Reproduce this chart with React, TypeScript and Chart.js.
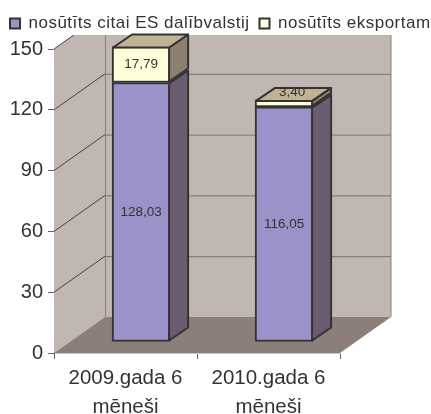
import React, { useEffect, useRef } from "react";
import { Chart, registerables } from "chart.js";

Chart.register(...registerables);

const categories = [["2009.gada 6", "mēneši"], ["2010.gada 6", "mēneši"]];
const seriesNames = ["nosūtīts citai ES dalībvalstij", "nosūtīts eksportam"];
const sentToEU = [128.03, 116.05];
const sentExport = [17.79, 3.4];
const yTicks = [0, 30, 60, 90, 120, 150];

const FONT = "'Liberation Sans', Arial, sans-serif";
const DX = 51, DY = 36;
const BAR_SHIFT = { x: 15.6, y: 11 };
const BAR_DEPTH = { x: 19, y: 13 };
const INK = "#333333";
const faces = [
  { front: "#9A92C8", side: "#6B5C72" },
  { front: "#FFFFD9", side: "#8F7F6E" },
];
const TOP_FACE = "#C2B294";

const poly = (ctx: CanvasRenderingContext2D, pts: number[][], fill: string | null, stroke?: string, lw = 1) => {
  ctx.beginPath();
  pts.forEach((p, i) => (i ? ctx.lineTo(p[0], p[1]) : ctx.moveTo(p[0], p[1])));
  ctx.closePath();
  if (fill) { ctx.fillStyle = fill; ctx.fill(); }
  if (stroke) { ctx.strokeStyle = stroke; ctx.lineWidth = lw; ctx.stroke(); }
};

const walls3d = {
  id: "walls3d",
  beforeLayout(chart: any) {
    const lg = chart.legend;
    if (!lg || lg._wrapped) return;
    lg._wrapped = true;
    const ctx = chart.ctx;
    const fit = lg.fit.bind(lg);
    lg.fit = () => {
      ctx.letterSpacing = "0.5px";
      lg.maxWidth = 600;
      fit();
      ctx.letterSpacing = "0px";
      lg.height = 44;
      lg.width = 431;
    };
    const draw = lg.draw.bind(lg);
    lg.draw = (...a: any[]) => {
      const right = lg.right;
      lg.right = 600;
      ctx.letterSpacing = "0.5px";
      draw(...a);
      ctx.letterSpacing = "0px";
      lg.right = right;
    };
  },
  beforeDatasetsDraw(chart: any) {
    const { ctx, chartArea: a, scales } = chart;
    const y = scales.y;
    ctx.save();
    ctx.beginPath();
    ctx.rect(0, 35, 431, 379);
    ctx.clip();
    const L = a.left, R = a.right, T = a.top, B = a.bottom;
    poly(ctx, [[L, B], [L + DX, B - DY], [L + DX, T - DY], [L, T]], "#C0B6B2");
    poly(ctx, [[L + DX, T - DY], [R + DX, T - DY], [R + DX, B - DY], [L + DX, B - DY]], "#C0B6B2");
    poly(ctx, [[L, B], [R, B], [R + DX, B - DY], [L + DX, B - DY]], "#8C7E78");
    ctx.lineWidth = 1;
    ctx.strokeStyle = "#8C7E78";
    ctx.beginPath();
    ctx.moveTo(L + DX + 0.5, T - DY);
    ctx.lineTo(L + DX + 0.5, B - DY);
    ctx.moveTo(R + DX, T - DY);
    ctx.lineTo(R + DX, B - DY);
    ctx.stroke();
    yTicks.forEach((v) => {
      if (v === 0) return;
      const py = y.getPixelForValue(v);
      ctx.strokeStyle = "#4A4242";
      ctx.beginPath();
      ctx.moveTo(L, py);
      ctx.lineTo(L + DX, py - DY);
      ctx.stroke();
      ctx.strokeStyle = "#7E726E";
      ctx.beginPath();
      ctx.moveTo(L + DX, py - DY + 0.5);
      ctx.lineTo(R + DX, py - DY + 0.5);
      ctx.stroke();
    });
    ctx.restore();
  },
  beforeDatasetDraw(chart: any) {
    chart.ctx.save();
    chart.ctx.translate(BAR_SHIFT.x, -BAR_SHIFT.y);
  },
  afterDatasetDraw(chart: any, args: any) {
    const { ctx } = chart;
    const idx = args.index;
    const meta = chart.getDatasetMeta(idx);
    ctx.lineJoin = "round";
    meta.data.forEach((bar: any) => {
      const { x, y, base, width } = bar.getProps(["x", "y", "base", "width"], true);
      const r = x + width / 2 - 1, l = x - width / 2 + 1;
      const d = BAR_DEPTH;
      poly(ctx, [[r, y + 1], [r + d.x, y + 1 - d.y], [r + d.x, base - 1 - d.y], [r, base - 1]], faces[idx].side, INK, 2);
      if (idx === chart.data.datasets.length - 1) {
        poly(ctx, [[l, y + 1], [l + d.x, y + 1 - d.y], [r + d.x, y + 1 - d.y], [r, y + 1]], TOP_FACE, INK, 2);
      }
    });
    ctx.restore();
  },
  afterDatasetsDraw(chart: any) {
    const { ctx } = chart;
    ctx.save();
    ctx.font = `13.5px ${FONT}`;
    ctx.fillStyle = INK;
    ctx.textAlign = "center";
    ctx.textBaseline = "middle";
    chart.data.datasets.forEach((ds: any, idx: number) => {
      chart.getDatasetMeta(idx).data.forEach((bar: any, i: number) => {
        const { x, y, base } = bar.getProps(["x", "y", "base"], true);
        const v = ds.data[i];
        const thin = Math.abs(base - y) < 14;
        const tx = x + BAR_SHIFT.x + (thin ? 8 : 0);
        const ty = (y + base) / 2 - BAR_SHIFT.y + (thin ? -11 : 0);
        ctx.fillText(v.toFixed(2).replace(".", ","), tx, ty);
      });
    });
    ctx.restore();
  },
};

export default function App() {
  const ref = useRef<HTMLCanvasElement>(null);
  useEffect(() => {
    const chart = new Chart(ref.current!, {
      type: "bar",
      data: {
        labels: categories as any,
        datasets: [sentToEU, sentExport].map((data, i) => ({
          label: seriesNames[i],
          data,
          backgroundColor: faces[i].front,
          borderColor: INK,
          borderWidth: 2,
          borderSkipped: false,
          barThickness: 58,
          clip: false as any,
        })),
      },
      options: {
        animation: false,
        responsive: false,
        devicePixelRatio: 1,
        layout: { padding: { top: 5, left: 0, right: 0, bottom: 0 } },
        plugins: {
          tooltip: { enabled: false },
          legend: {
            position: "top",
            align: "start",
            fullSize: true,
            labels: {
              boxWidth: 10,
              boxHeight: 10,
              padding: 10,
              color: INK,
              font: { family: FONT, size: 17 },
            },
          },
        },
        scales: {
          x: {
            stacked: true,
            afterFit: (s: any) => { s.height = 61; },
            grid: { offset: true, drawOnChartArea: false, tickLength: 6, color: "#6B6060" },
            border: { color: "#C8C8C8", width: 1 },
            ticks: { color: INK, padding: 5, maxRotation: 0, font: { family: FONT, size: 20.5, lineHeight: 1.4 } },
          },
          y: {
            stacked: true,
            min: 0,
            max: 150,
            afterFit: (s: any) => { s.width = 54; },
            afterBuildTicks: (s: any) => { s.ticks = yTicks.map((value) => ({ value })); },
            grid: { drawOnChartArea: false, tickLength: 6, color: "#6B6060" },
            border: { color: "#6B6060", width: 1 },
            ticks: { color: INK, padding: 5, font: { family: FONT, size: 20 } },
          },
          spacer: {
            position: "right",
            afterFit: (s: any) => { s.width = 91; },
            grid: { display: false },
            border: { display: false },
            ticks: { display: false },
          },
        },
      },
      plugins: [walls3d],
    } as any);
    return () => chart.destroy();
  }, []);
  return (
    <div style={{ position: "absolute", left: 0, top: 0, width: 431, height: 414, background: "#fff" }}>
      <canvas ref={ref} width={431} height={414} style={{ display: "block" }} />
    </div>
  );
}
